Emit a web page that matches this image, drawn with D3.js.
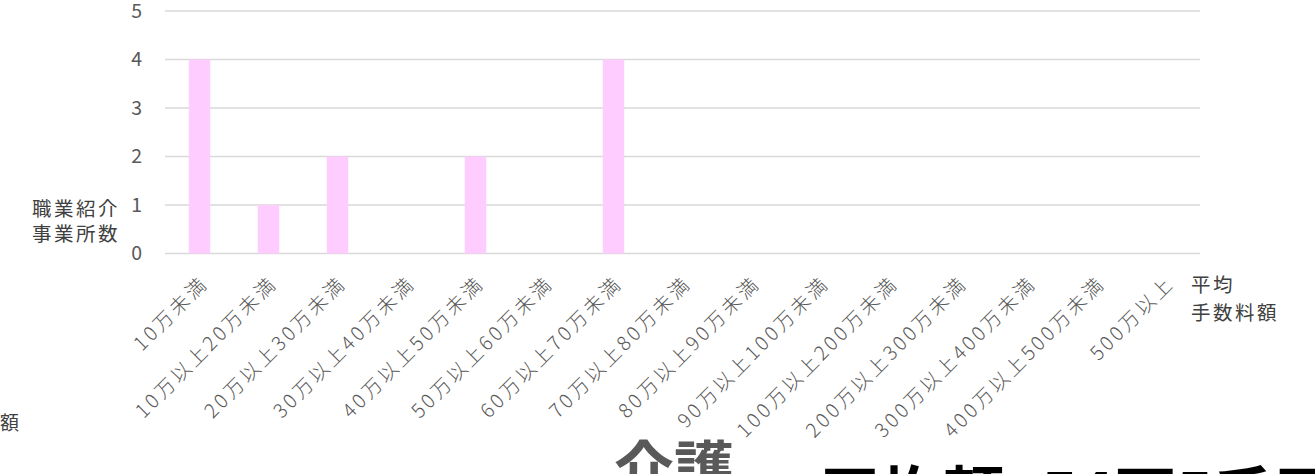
<!DOCTYPE html>
<html><head><meta charset="utf-8">
<script src="https://cdn.jsdelivr.net/npm/d3@7/dist/d3.min.js"></script>
<style>
html,body{margin:0;padding:0;background:#fff;overflow:hidden;}
svg{display:block;font-family:"Noto Sans CJK JP","Noto Sans",sans-serif;}
</style></head>
<body>
<svg id="chart" width="1315" height="474"></svg>
<script>
const categories = ["10万未満","10万以上20万未満","20万以上30万未満","30万以上40万未満","40万以上50万未満","50万以上60万未満","60万以上70万未満","70万以上80万未満","80万以上90万未満","90万以上100万未満","100万以上200万未満","200万以上300万未満","300万以上400万未満","400万以上500万未満","500万以上"];
const counts = [4,1,2,0,2,0,4,0,0,0,0,0,0,0,0];
const yTicks = [0,1,2,3,4,5];
const yTitle = ["職業紹介","事業所数"];
const xTitle = ["平均","手数料額"];
const bottomTitle = "介護";
const bottomLabel = "平均額";
const bottomValue = "54万5千円";

const svg = d3.select("#chart");
const plotLeft = 165, plotRight = 1200, plotTop = 11, plotBottom = 253.5;

const x = d3.scaleBand().domain(categories).range([plotLeft, plotRight]).paddingInner(0.69).paddingOuter(0.345);
const y = d3.scaleLinear().domain([0,5]).range([plotBottom, plotTop]);

// gridlines
svg.append("g").selectAll("line").data(yTicks).join("line")
  .attr("x1", plotLeft).attr("x2", plotRight)
  .attr("y1", d => y(d)).attr("y2", d => y(d))
  .attr("stroke", "#d9d9d9").attr("stroke-width", 1.4);

// bars
svg.append("g").selectAll("rect").data(categories).join("rect")
  .attr("x", d => x(d)).attr("width", x.bandwidth())
  .attr("y", (d,i) => y(counts[i])).attr("height", (d,i) => y(0) - y(counts[i]))
  .attr("fill", "#ffccff");

// y tick labels
svg.append("g").selectAll("text").data(yTicks).join("text")
  .attr("x", 142).attr("y", d => y(d)).attr("dy", "0.35em")
  .attr("text-anchor", "end").attr("fill", "#595959").attr("font-size", 19.5)
  .text(d => d);

// x tick labels
svg.append("g").selectAll("text").data(categories).join("text")
  .attr("transform", d => `translate(${x(d) + x.bandwidth()/2 + 10},${284.5}) rotate(-45)`)
  .attr("text-anchor", "end").attr("fill", "#595959").attr("font-size", 19.5)
  .attr("font-weight", 300).attr("letter-spacing", 3.2)
  .text(d => d);

// y title
svg.append("g").selectAll("text").data(yTitle).join("text")
  .attr("x", 120).attr("y", (d,i) => 209 + i*25.5).attr("dy", "0.35em")
  .attr("text-anchor", "end").attr("fill", "#404040").attr("font-size", 19.5)
  .attr("letter-spacing", 2.5)
  .text(d => d);

// x title
svg.append("g").selectAll("text").data(xTitle).join("text")
  .attr("x", 1191).attr("y", (d,i) => 285 + i*28).attr("dy", "0.35em")
  .attr("text-anchor", "start").attr("fill", "#404040").attr("font-size", 19.5)
  .attr("letter-spacing", 2.5)
  .text(d => d);

// stray left label
svg.append("text").attr("x", 0).attr("y", 430).attr("fill", "#404040").attr("font-size", 19).text("額");

// bottom titles (cut off)
svg.append("text").attr("x", 614).attr("y", 491).attr("fill", "#595959")
  .attr("font-size", 60).attr("font-weight", "bold").text(bottomTitle);
svg.append("text").attr("x", 819).attr("y", 518).attr("fill", "#000")
  .attr("font-size", 62).attr("font-weight", "bold").text(bottomLabel);
svg.append("text").attr("x", 1041).attr("y", 518).attr("fill", "#000")
  .attr("font-size", 62).attr("font-weight", "bold").text(bottomValue);
</script>
</body></html>
